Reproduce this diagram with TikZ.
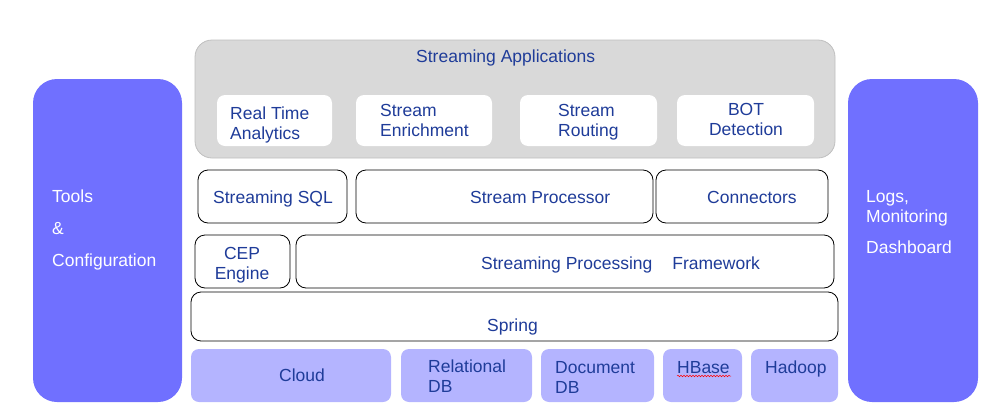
\documentclass[tikz,border=0pt]{standalone}
\usepackage{fontspec}
\setmainfont{Liberation Sans}
\usetikzlibrary{positioning,decorations.pathmorphing}
\definecolor{sidefill}{HTML}{7070FF}
\definecolor{storefill}{HTML}{B4B4FF}
\definecolor{appfill}{HTML}{D9D9D9}
\definecolor{appline}{HTML}{BFBFBF}
\definecolor{txtblue}{HTML}{1F3C99}
\tikzset{
  every node/.style={font=\fontsize{17.5}{19.8}\selectfont, text=txtblue},
  sidebox/.style={fill=sidefill, rounded corners=24pt, inner sep=0pt},
  appsbox/.style={draw=appline, fill=appfill, line width=0.8pt, rounded corners=17pt, inner sep=0pt},
  appbox/.style={fill=white, rounded corners=8pt, inner sep=0pt, minimum height=51pt},
  layerbox/.style={draw=black, line width=0.8pt, rounded corners=10pt, fill=white, inner sep=0pt, minimum height=53pt},
  storebox/.style={fill=storefill, rounded corners=8pt, inner sep=0pt, minimum height=53pt},
  txt/.style={inner sep=0pt, align=left, anchor=base west},
  sidetext/.style={txt, text=white}
}
\begin{document}
\begin{tikzpicture}[x=1pt, y=-1pt]
			%%%%% START %%%%%
			\useasboundingbox (0,0) rectangle (1005,410);
			
			% side columns (base = last line)
			\node[sidebox, minimum width=149pt, minimum height=323pt] (tools) at (107.5,240.5) {};
			\node[sidetext] (tools-text) at (52,266) {Tools\\[12pt]\&\\[12pt]Configuration};
			\node[sidebox, minimum width=130pt, minimum height=323pt] (logs) at (913,240.5) {};
			\node[sidetext] (logs-text) at (866,253) {Logs,\\Monitoring\\[11pt]Dashboard};
			
			% streaming applications
			\node[appsbox, minimum width=640pt, minimum height=118pt] (apps) at (515,99) {};
			\node[txt] (apps-text) at (416,62) {Streaming Applications};
			\node[appbox, minimum width=115pt] (rta) at (274.5,120.5) {};
			\node[txt] (rta-text) at (230,139) {Real Time\\Analytics};
			\node[appbox, minimum width=136pt] (enrich) at (424,120.5) {};
			\node[txt] (enrich-text) at (380,136) {Stream\\Enrichment};
			\node[appbox, minimum width=137pt] (routing) at (588.5,120.5) {};
			\node[txt] (routing-text) at (558,136) {Stream\\Routing};
			\node[appbox, minimum width=137pt] (bot) at (745.5,120.5) {};
			\node[txt, align=center, anchor=base] (bot-text) at (746,135) {BOT\\Detection};
			
			% processing layers
			\node[layerbox, minimum width=149pt] (sql) at (272.5,196.5) {};
			\node[txt] (sql-text) at (213,203) {Streaming SQL};
			\node[layerbox, minimum width=297pt] (proc) at (504.5,196.5) {};
			\node[txt] (proc-text) at (470,203) {Stream Processor};
			\node[layerbox, minimum width=172pt] (conn) at (742,196.5) {};
			\node[txt] (conn-text) at (707,203) {Connectors};
			\node[layerbox, minimum width=95pt] (cep) at (242.5,261.5) {};
			\node[txt, align=center, anchor=base] (cep-text) at (242,279) {CEP\\Engine};
			\node[layerbox, minimum width=538pt] (frame) at (565,261.5) {};
			\node[txt] (frame-text) at (481,269) {Streaming Processing\hspace{20pt}Framework};
			\node[layerbox, minimum width=647pt, minimum height=49pt] (spring) at (514.5,316.5) {};
			\node[txt] (spring-text) at (487,331) {Spring};
			
			% storage
			\node[storebox, minimum width=200pt] (cloud) at (291,375.5) {};
			\node[txt] (cloud-text) at (279,381) {Cloud};
			\node[storebox, minimum width=131pt] (rel) at (466.5,375.5) {};
			\node[txt] (rel-text) at (428,392) {Relational\\DB};
			\node[storebox, minimum width=113pt] (doc) at (597.5,375.5) {};
			\node[txt] (doc-text) at (555,393) {Document\\DB};
			\node[storebox, minimum width=79pt] (hbase) at (702.5,375.5) {};
			\node[txt] (hbase-text) at (677,373) {HBase};
			\draw[red, line width=0.5pt, decorate, decoration={snake, amplitude=0.8pt, segment length=3pt}]
				(hbase-text.base west) ++(0,3) -- ++(54,0);
			\node[storebox, minimum width=87pt] (hadoop) at (794.5,375.5) {};
			\node[txt] (hadoop-text) at (765,373) {Hadoop};
			%%%%% END %%%%%
\end{tikzpicture}
\end{document}
